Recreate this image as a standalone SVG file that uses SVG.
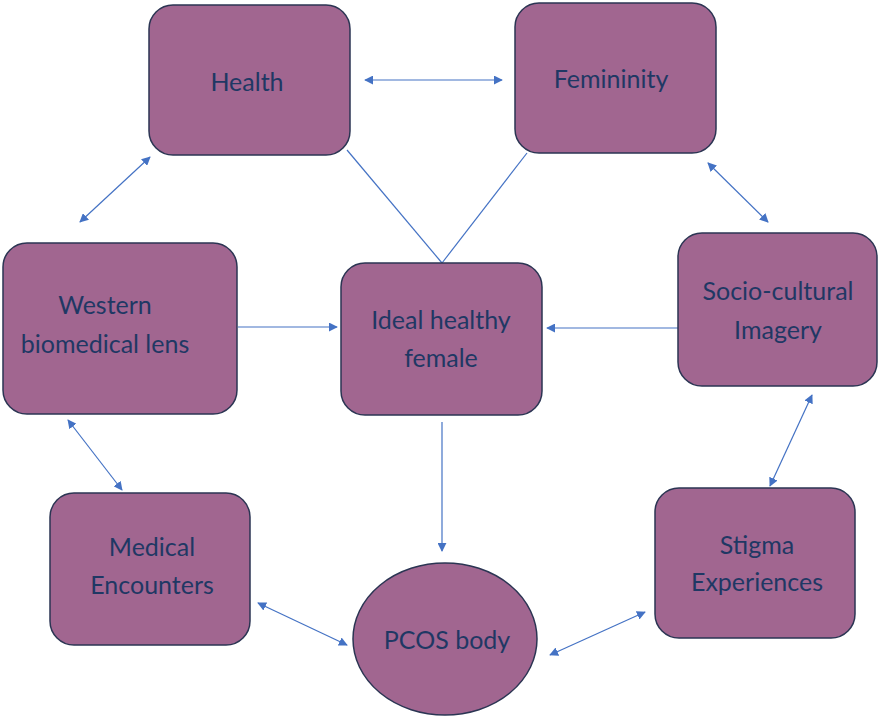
<svg xmlns="http://www.w3.org/2000/svg" width="879" height="717" viewBox="0 0 879 717">
<defs>
<marker id="ah" viewBox="0 0 10 10" refX="9" refY="5" markerWidth="9" markerHeight="9" markerUnits="userSpaceOnUse" orient="auto-start-reverse">
<path d="M0,0 L10,5 L0,10 z" fill="#4472c4"/>
</marker>
<style>
.box{fill:#a16690;stroke:#2b3553;stroke-width:1.5}
.t{font-family:Lato,"Open Sans",sans-serif;font-size:25px;fill:#1f3864;text-anchor:middle}
.c{stroke:#4472c4;stroke-width:1.2;fill:none}
.a{marker-end:url(#ah)}
.b{marker-start:url(#ah);marker-end:url(#ah)}
</style>
</defs>
<rect width="879" height="717" fill="#ffffff"/>
<g id="connectors">
<line class="c b" x1="365" y1="80" x2="502" y2="80"/>
<line class="c b" x1="150" y1="157" x2="80" y2="222"/>
<line class="c b" x1="708" y1="163" x2="768" y2="222"/>
<line class="c" x1="347" y1="150" x2="442" y2="263"/>
<line class="c" x1="527" y1="153" x2="442" y2="263"/>
<line class="c a" x1="238" y1="327" x2="337" y2="327"/>
<line class="c a" x1="678" y1="328" x2="547" y2="328"/>
<line class="c a" x1="442" y1="422" x2="442" y2="551"/>
<line class="c b" x1="68" y1="420" x2="122" y2="490"/>
<line class="c b" x1="812" y1="395" x2="770" y2="486"/>
<line class="c b" x1="258" y1="603" x2="347" y2="645"/>
<line class="c b" x1="550" y1="655" x2="645" y2="612"/>
</g>
<g id="health">
<rect class="box" x="149" y="5" width="201" height="150" rx="24"/>
<text class="t" x="247" y="91">Health</text>
</g>
<g id="femininity">
<rect class="box" x="515" y="3" width="201" height="150" rx="24"/>
<text class="t" x="611" y="88">Femininity</text>
</g>
<g id="western">
<rect class="box" x="3" y="243" width="234" height="171" rx="24"/>
<text class="t" x="105" y="314">Western</text>
<text class="t" x="105" y="353">biomedical lens</text>
</g>
<g id="ideal">
<rect class="box" x="341" y="263" width="201" height="152" rx="24"/>
<text class="t" x="441" y="329">Ideal healthy</text>
<text class="t" x="441" y="367">female</text>
</g>
<g id="socio">
<rect class="box" x="678" y="233" width="199" height="153" rx="24"/>
<text class="t" x="778" y="300">Socio-cultural</text>
<text class="t" x="778" y="339">Imagery</text>
</g>
<g id="medical">
<rect class="box" x="50" y="493" width="200" height="152" rx="24"/>
<text class="t" x="152" y="556">Medical</text>
<text class="t" x="152" y="594">Encounters</text>
</g>
<g id="stigma">
<rect class="box" x="655" y="488" width="200" height="150" rx="24"/>
<text class="t" x="757" y="554">Stigma</text>
<text class="t" x="757" y="591">Experiences</text>
</g>
<g id="pcos">
<ellipse class="box" cx="445" cy="639" rx="92" ry="76"/>
<text class="t" x="447" y="649">PCOS body</text>
</g>
</svg>
